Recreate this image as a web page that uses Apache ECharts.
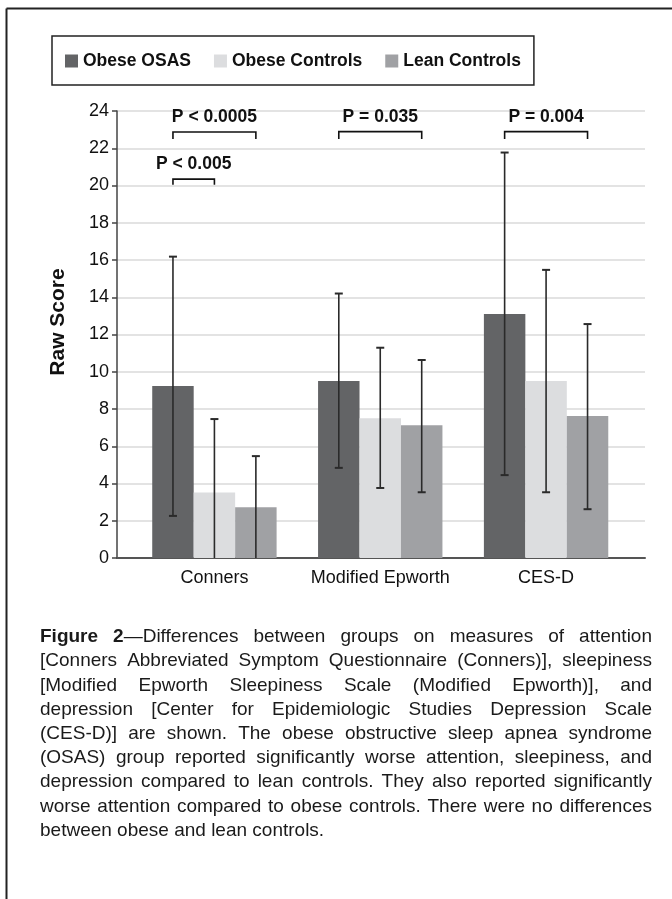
<!DOCTYPE html>
<html><head><meta charset="utf-8">
<script src="https://cdn.jsdelivr.net/npm/echarts@6/dist/echarts.min.js"></script>
<style>html,body{margin:0;padding:0;background:#fff}#c{width:672px;height:899px}</style>
</head><body><div id="c"></div>
<script>
// ---- data ----
const categories = ['Conners', 'Modified Epworth', 'CES-D'];
const groups = ['Obese OSAS', 'Obese Controls', 'Lean Controls'];
const osasMean = [9.23, 9.5, 13.1];
const ocMean = [3.52, 7.51, 9.5];
const lcMean = [2.73, 7.13, 7.62];
const osasLow = [2.26, 4.84, 4.45];
const osasHigh = [16.18, 14.2, 21.77];
const ocLow = [0, 3.76, 3.53];
const ocHigh = [7.46, 11.29, 15.47];
const lcLow = [0, 3.53, 2.62];
const lcHigh = [5.47, 10.63, 12.56];
const yTicks = [0, 2, 4, 6, 8, 10, 12, 14, 16, 18, 20, 22, 24];
const bracketCat = [0, 0, 1, 2];
const bracketFrom = [0, 0, 0, 0];
const bracketTo = [2, 1, 2, 2];
const bracketTop = [22.87, 20.34, 22.89, 22.89];
const bracketLeg = [22.49, 20.04, 22.49, 22.49];
const bracketLabel = ['P < 0.0005', 'P < 0.005', 'P = 0.035', 'P = 0.004'];
const captionLines = [
  '**Figure** **2**—Differences between groups on measures of attention',
  '[Conners Abbreviated Symptom Questionnaire (Conners)], sleepiness',
  '[Modified Epworth Sleepiness Scale (Modified Epworth)], and',
  'depression [Center for Epidemiologic Studies Depression Scale',
  '(CES-D)] are shown. The obese obstructive sleep apnea syndrome',
  '(OSAS) group reported significantly worse attention, sleepiness, and',
  'depression compared to lean controls. They also reported significantly',
  'worse attention compared to obese controls. There were no differences',
  'between obese and lean controls.'
];

const colors = ['#636466', '#dcdddf', '#a0a1a4'];
const FONT = '"Liberation Sans", Arial, Helvetica, sans-serif';
const means = [osasMean, ocMean, lcMean];
const lows = [osasLow, ocLow, lcLow];
const highs = [osasHigh, ocHigh, lcHigh];

const errData = [];
for (let g = 0; g < 3; g++) for (let c = 0; c < categories.length; c++) errData.push([c, g, lows[g][c], highs[g][c]]);
const brData = bracketCat.map((c, i) => [c, bracketFrom[i], bracketTo[i], bracketTop[i], bracketLeg[i]]);

const CAT_GAP = 0.25;
function barCenter(api, cat, g) {
  const band = api.size([1, 0])[0];
  const bw = band * (1 - CAT_GAP) / 3;
  return api.coord([cat, 0])[0] + (g - 1) * bw;
}

// ---- caption (justified) ----
const CAP_SIZE = 19, CAP_LEFT = 40, CAP_RIGHT = 652, CAP_TOP = 637, CAP_LH = 24.2;
const mctx = document.createElement('canvas').getContext('2d');
function segs(word) {
  const parts = word.split('**'); const out = [];
  parts.forEach((p, i) => { if (p) out.push({ t: p, b: i % 2 === 1 }); });
  return out;
}
function segW(s) { mctx.font = (s.b ? 'bold ' : '') + CAP_SIZE + 'px ' + FONT; return mctx.measureText(s.t).width; }
mctx.font = CAP_SIZE + 'px ' + FONT;
const spaceW = mctx.measureText(' ').width;
const captionEls = [];
captionLines.forEach((line, li) => {
  const words = line.split(' ').map(segs);
  const widths = words.map(w => w.reduce((a, s) => a + segW(s), 0));
  const total = widths.reduce((a, b) => a + b, 0);
  const last = li === captionLines.length - 1;
  const gap = last ? spaceW : (CAP_RIGHT - CAP_LEFT - total) / (words.length - 1);
  let x = CAP_LEFT;
  const y = CAP_TOP + li * CAP_LH;
  words.forEach((w, wi) => {
    let xx = x;
    w.forEach(s => {
      captionEls.push({ type: 'text', x: xx, y: y, silent: true,
        style: { text: s.t, fill: '#1a1a1a', font: (s.b ? 'bold ' : '') + CAP_SIZE + 'px ' + FONT, textAlign: 'left', textVerticalAlign: 'middle' } });
      xx += segW(s);
    });
    x += widths[wi] + gap;
  });
});

const chart = echarts.init(document.getElementById('c'), null, { renderer: 'canvas' });
chart.setOption({
  animation: false,
  backgroundColor: '#fff',
  textStyle: { fontFamily: FONT },
  legend: {
    data: groups, left: 52, top: 36, orient: 'horizontal',
    padding: [16, 13, 15, 13], itemGap: 23, itemWidth: 13, itemHeight: 13,
    borderColor: '#222', borderWidth: 1.5,
    icon: 'rect',
    textStyle: { fontFamily: FONT, fontSize: 17.5, fontWeight: 'bold', color: '#111' }
  },
  grid: [
    { left: 117, right: 27, top: 111, bottom: 341, containLabel: false },
    { left: 131.5, right: 43, top: 111, bottom: 341, containLabel: false }
  ],
  xAxis: [
    { type: 'value', gridIndex: 0, min: 0, max: 1, show: true,
      axisLine: { show: true, lineStyle: { color: '#555', width: 2 } },
      axisTick: { show: false }, axisLabel: { show: false }, splitLine: { show: false } },
    { type: 'category', gridIndex: 1, data: categories, boundaryGap: true,
      axisLine: { show: false }, axisTick: { show: false },
      axisLabel: { interval: 0, margin: 11, fontSize: 18, color: '#111', fontFamily: FONT } }
  ],
  yAxis: [
    { type: 'value', gridIndex: 0, min: 0, max: 24, interval: 2,
      axisLine: { show: true, lineStyle: { color: '#444', width: 1.5 } },
      axisTick: { show: true, length: 5, lineStyle: { color: '#444', width: 1.5 } },
      axisLabel: { margin: 8, fontSize: 18, color: '#111', fontFamily: FONT,
        formatter: v => yTicks.indexOf(v) >= 0 ? String(v) : '' },
      splitLine: { show: true, lineStyle: { color: '#dadada', width: 1.5 } } },
    { type: 'value', gridIndex: 1, min: 0, max: 24, interval: 2, show: false }
  ],
  series: [
    ...groups.map((name, g) => ({
      name: name, type: 'bar', xAxisIndex: 1, yAxisIndex: 1,
      data: means[g], barGap: '0%', barCategoryGap: (CAT_GAP * 100) + '%',
      itemStyle: { color: colors[g] }, z: 2
    })),
    {
      type: 'custom', xAxisIndex: 1, yAxisIndex: 1, z: 5, silent: true,
      data: errData, encode: { x: 0, y: [2, 3] },
      renderItem: function (params, api) {
        const cat = api.value(0), g = api.value(1), lo = api.value(2), hi = api.value(3);
        const cx = barCenter(api, cat, g);
        const yT = api.coord([cat, hi])[1], yB = api.coord([cat, lo])[1];
        const st = { stroke: '#2a2a2a', lineWidth: 1.6 };
        const ch = [
          { type: 'line', shape: { x1: cx, y1: yT, x2: cx, y2: yB }, style: st },
          { type: 'line', shape: { x1: cx - 4, y1: yT, x2: cx + 4, y2: yT }, style: { stroke: '#2a2a2a', lineWidth: 2 } }
        ];
        if (lo > 0) ch.push({ type: 'line', shape: { x1: cx - 4, y1: yB, x2: cx + 4, y2: yB }, style: { stroke: '#2a2a2a', lineWidth: 2 } });
        return { type: 'group', children: ch };
      }
    },
    {
      type: 'custom', xAxisIndex: 1, yAxisIndex: 1, z: 6, silent: true,
      data: brData, encode: { x: 0, y: 3 },
      renderItem: function (params, api) {
        const cat = api.value(0), g1 = api.value(1), g2 = api.value(2);
        const top = api.value(3), leg = api.value(4);
        const x1 = barCenter(api, cat, g1), x2 = barCenter(api, cat, g2);
        const yT = api.coord([cat, top])[1], yL = api.coord([cat, leg])[1];
        return { type: 'group', children: [
          { type: 'polyline', shape: { points: [[x1, yL], [x1, yT], [x2, yT], [x2, yL]] },
            style: { stroke: '#111', lineWidth: 1.6, fill: null } },
          { type: 'text', x: (x1 + x2) / 2, y: yT - 15,
            style: { text: bracketLabel[params.dataIndex], fill: '#111', textAlign: 'center', textVerticalAlign: 'middle',
              font: 'bold 17.5px ' + FONT } }
        ] };
      }
    }
  ],
  graphic: [
    { type: 'line', shape: { x1: 6.5, y1: 8.5, x2: 672, y2: 8.5 }, style: { stroke: '#222', lineWidth: 2 }, silent: true },
    { type: 'line', shape: { x1: 6.5, y1: 8.5, x2: 6.5, y2: 899 }, style: { stroke: '#222', lineWidth: 2 }, silent: true },
    { type: 'text', x: 58, y: 322, rotation: Math.PI / 2, silent: true,
      style: { text: 'Raw Score', fill: '#111', font: 'bold 21px ' + FONT, textAlign: 'center', textVerticalAlign: 'middle' } },
    ...captionEls
  ]
});
</script></body></html>
